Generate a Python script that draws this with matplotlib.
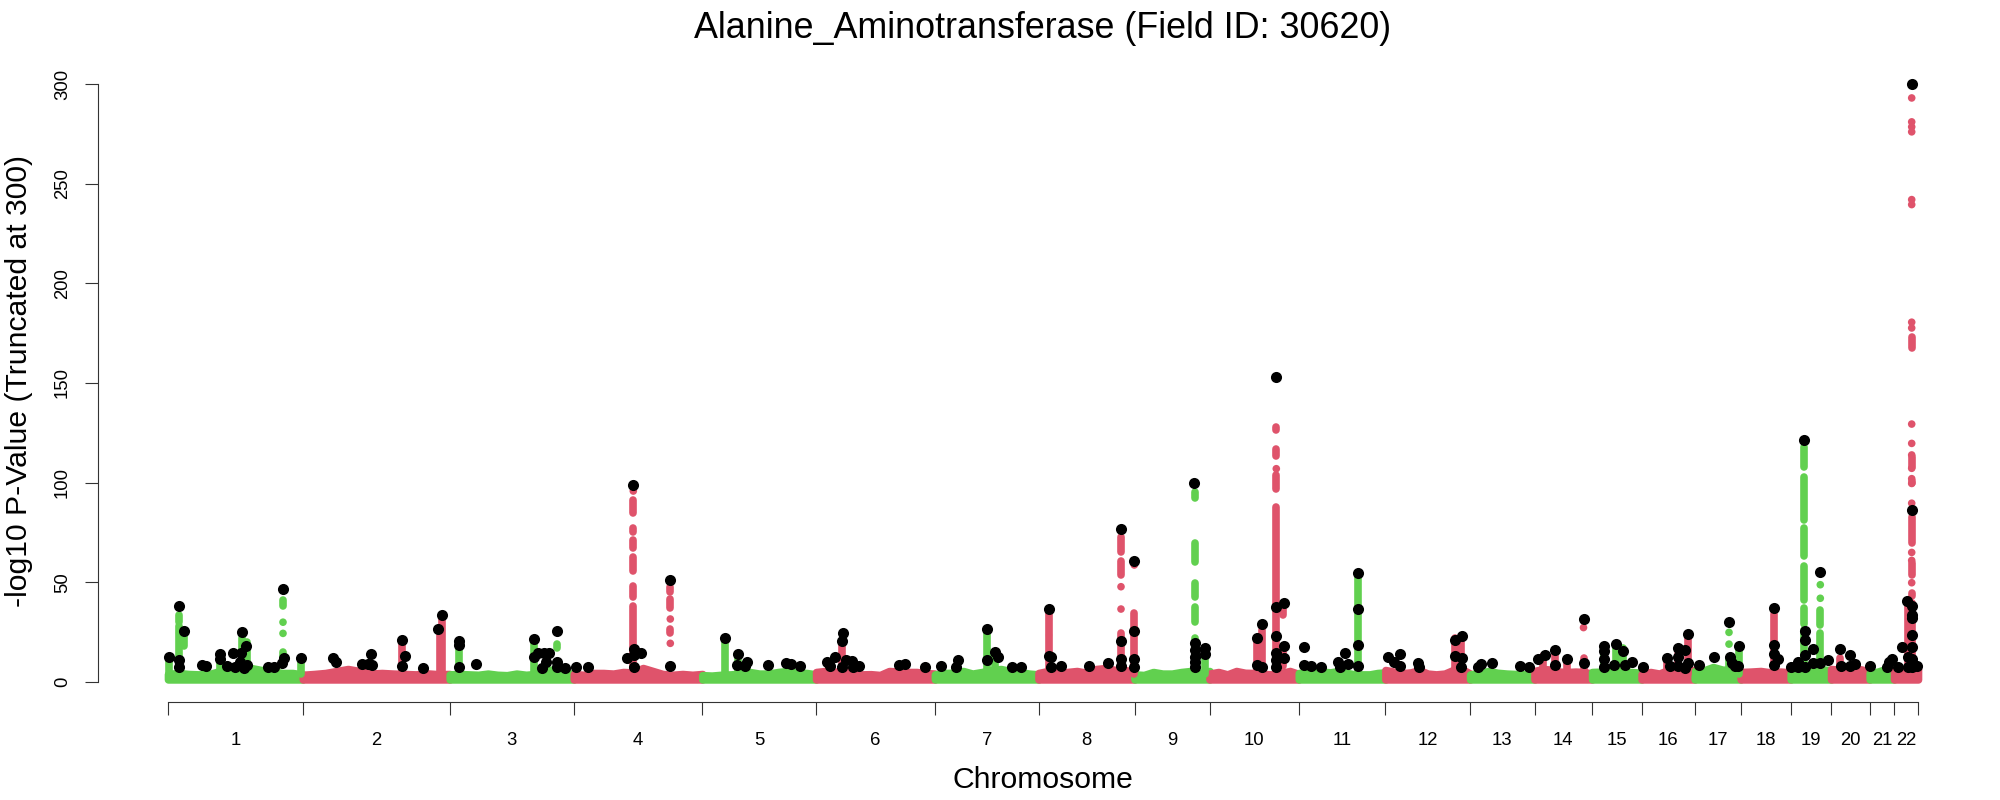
import numpy as np
import matplotlib
matplotlib.use('Agg')
import matplotlib.pyplot as plt

plt.rcParams['font.family'] = ['Liberation Sans', 'DejaVu Sans']

# chromosome widths along the x axis (variant index, not base pairs)
chrom_labels = [str(i) for i in range(1, 23)]
chrom_widths = [134.8, 146.9, 124.1, 128.5, 113.8, 118.8, 103.6, 96.0, 75.0, 89.3, 86.6,
                84.7, 64.4, 57.6, 49.5, 53.1, 46.0, 50.0, 40.4, 38.6, 24.4, 23.9]

# top of the dense background of points, read left to right in each chromosome
floor_heights = [
    [4, 4.5, 4, 3.8, 4, 5.5, 5, 6.5, 7, 6, 5.5, 4.5, 4.5, 3.8],
    [3.6, 4, 4.5, 5.5, 6.5, 5.5, 4.2, 4.5, 4.2, 4, 3.8, 4.3, 3.9, 4],
    [3.8, 4, 3.8, 3.6, 4.2, 3.6, 3.4, 4.2, 3.6, 4, 5.5, 6.5, 5, 3.8],
    [4, 3.6, 4.5, 4.5, 4.2, 5, 4.8, 7, 5.5, 4, 3.6, 4, 3.6, 4],
    [3.4, 3.2, 3.6, 3.8, 4.2, 5, 4.2, 4.2, 5, 5.5, 4.5, 4.5, 3.8],
    [5, 5.5, 5, 6, 4.2, 3.8, 3.9, 3.5, 5.5, 5.2, 5, 5, 4.5, 4.2],
    [3.8, 4.5, 4.6, 5.5, 4.2, 5, 6, 6.5, 5.5, 5, 4.2, 3.8],
    [4.5, 5.5, 4.5, 5, 5.5, 4.6, 6.5, 7, 6, 6, 5],
    [3.8, 3.5, 5, 4.2, 4.2, 5, 5.5, 4.5, 5.5],
    [4.2, 5, 3.8, 5.5, 4.6, 4.5, 4, 3.8, 4.5, 5.5, 4],
    [4.5, 4.8, 5.5, 5.2, 4.8, 5.5, 4.6, 3.9, 3.8, 3.8, 4.5, 4.8],
    [6, 5.2, 4.4, 4.8, 6, 4.2, 3.8, 4.2, 6, 6.5, 4.2],
    [3.8, 4.5, 5.5, 4.6, 4.2, 4, 3.8, 3.5],
    [5.5, 6.5, 6.2, 5.2, 5, 5.2, 5, 4.2],
    [5, 5.2, 6, 5.2, 5, 4.6],
    [4, 5, 4.2, 6, 6.2, 6.5, 5.8],
    [5.5, 5.8, 7.5, 6.2, 6, 4.8],
    [5, 5.2, 5.5, 4.8, 5.2, 4.8],
    [4.4, 4.8, 5.5, 6.5, 6.2, 6],
    [6.5, 6.2, 5.5, 7, 6.2, 5],
    [4.5, 5.2, 6.5, 5.2],
    [5.5, 6, 6.5, 6.5],
]

# unbroken runs of points in a peak: position, lowest and highest value
run_pos = [0.75, 10.6, 10.6, 10.6, 16.4, 51.6, 74.4, 78.9, 115, 115, 133.3, 233.8, 271.5, 274,
           291.4, 366, 388.7, 465.3, 465.3, 465.3, 465.3, 465.3, 465.3, 502.3, 502.3, 502.3,
           556.6, 570, 674, 818.6, 826.6, 880.7, 880.7, 880.7,
           953, 953, 953, 966.3, 1027.3, 1027.3, 1027.3, 1027.3, 1027.3, 1037.3,
           1089.3, 1093.7, 1108.3, 1108.3, 1108.3, 1108.3, 1115.3, 1115.3,
           1190, 1287, 1293, 1375, 1387, 1399, 1415.5, 1435.6, 1447.6, 1455,
           1498.5, 1509.7, 1520.4, 1561, 1571.3, 1606, 1672,
           1636.3, 1636.3, 1636.3, 1636.3, 1636.3, 1636.3, 1652.3, 1652.3,
           1743.7, 1743.7, 1743.7, 1743.7, 1743.7, 1743.7, 1743.7, 1740.3]
run_low = [4, 25, 4, 30, 18, 4, 4, 8, 38, 10, 4, 4, 4, 4,
           4, 4, 17, 4, 42.5, 55.9, 67, 75.3, 84.6, 37, 45.3, 24.4,
           4, 4, 4, 4, 6, 4, 24, 32,
           4, 53.7, 65.3, 4, 4, 30, 42.8, 60.4, 92.2, 4,
           4, 4, 4, 97, 113.6, 126.4, 33.6, 8,
           4, 4, 4, 4, 4, 4, 4, 4, 7, 7,
           4, 4, 4, 4, 4, 4, 4,
           4, 29, 41.1, 63.4, 81.3, 108, 4, 28.6,
           4, 42.9, 53.7, 69.6, 100, 108, 167.4, 8]
run_high = [11, 28, 24, 33.6, 24, 12, 22, 20, 41, 15, 10, 20, 27, 33,
            17, 20, 19, 38.3, 48.3, 62.9, 71.2, 77.1, 91.3, 41.5, 47.8, 26.4,
            21, 12, 20, 26, 14, 23, 31, 36,
            24.5, 60.9, 72.9, 34.4, 21.9, 37.8, 49.5, 69.6, 95.5, 15,
            22, 26, 87.7, 103.9, 116.9, 128, 37.8, 18,
            54, 22, 22, 13, 16, 11, 12, 18, 17, 17,
            10, 14, 22, 12, 16, 34, 12,
            26, 37, 58.2, 77.1, 103, 118, 24.4, 36.1,
            39.5, 44.6, 59.5, 83, 101, 113, 173.3, 38]

# isolated points above the background
dot_pos = [1743.7, 1743.7, 1743.7, 1743.7, 1743.7, 1743.7, 1743.7, 1743.7, 1743.7, 1743.7, 1743.7,
           1743.7, 1743.7, 1743.7, 1743.7, 1743.7, 1743.7, 1743.7,
           115, 115, 502.3, 502.3, 953, 953, 966.3, 465.3, 1108.3,
           1415.5, 1561, 1561, 1652.3, 1652.3]
dot_val = [293, 281, 278.5, 276, 242, 239.5, 180.5, 177.6, 129.4, 119.7, 113.9, 107.2,
           102, 99.6, 89.7, 65, 61, 49.8,
           30, 24.4, 31.6, 19.4, 47.8, 36.6, 58.7, 95.8, 107,
           27.3, 24.9, 19, 48.8, 42]

# lead variants drawn in black on top
hit_pos = [0.75, 10.6, 10.6, 10.6, 16.4, 33.8, 38, 51.6, 51.6, 59, 65, 66.8, 73, 74.4, 78, 72, 75.8,
           78.9, 99.9, 106, 115, 115.5, 114, 133.3, 165, 168, 193.6, 200, 203.4, 203.9, 233.8, 236.5,
           233.8, 254.8, 269.5, 274, 291.4, 291.4, 291.4, 308.3, 365.9, 366.4, 370.4, 375.8, 381, 377.5,
           374, 388.7, 388.7, 388.7, 397, 407.9, 420, 458.8, 465.5, 465.5, 465.5, 473, 502, 502, 464.6,
           556.6, 570.4, 568.6, 578.9, 576.6, 600.3, 618.2, 623, 632.4, 658.8, 662.4, 666.8, 673.5, 675.3,
           674, 677.5, 683.8, 685, 691.4, 730.7, 737.4, 757.4, 772.6, 790, 788, 818.6, 818.6, 826.6, 830.2,
           843.6, 853.4, 880.7, 880.7, 883, 883, 893, 920.8, 939.6, 953, 953, 953, 953, 966.4, 966.4, 966.4,
           966.4, 1025.9, 1027, 1027, 1027, 1027, 1027, 1037.4, 1036.5, 1088.7, 1093.6, 1088.7, 1093.6,
           1107.9, 1115.5, 1108.3, 1115.5, 1108.3, 1115.5, 1108.3, 1108.3, 1107.5, 1135.6, 1135.6, 1142.7,
           1152.5, 1176.6, 1170.4, 1171.7, 1180.2, 1190, 1190, 1190, 1190,
           1220.4, 1231.6, 1225.8, 1232, 1249.9, 1251, 1286.9, 1293.6, 1286.9, 1293.6, 1293.2, 1309.7,
           1312.8, 1323.5, 1352, 1361, 1370, 1376.6, 1386.9, 1386.9, 1399, 1415.5, 1415.5, 1435.6, 1435.6,
           1435.6, 1435.6, 1446.3, 1447.6, 1454.8, 1457.4, 1464, 1475.3, 1498.5, 1502, 1509.7, 1509.7, 1510,
           1516.8, 1516.8, 1520.4, 1520.4, 1531, 1545.8, 1561, 1561.5, 1564, 1567, 1571.3, 1570.4, 1606,
           1605.6, 1605.6, 1609.7, 1605.6, 1623, 1629.8, 1636.5, 1636.5, 1636.5, 1636.5, 1629.8, 1636.3,
           1645, 1645.4, 1652, 1652, 1659.7, 1672, 1673, 1682.4, 1682.4, 1687, 1701.6, 1721, 1724.4, 1719,
           1730, 1733.8, 1738.7, 1744, 1744, 1744, 1744, 1743.6, 1740, 1743.6, 1740, 1743.6, 1749, 1743.7,
           1743.7]
hit_val = [12.7, 38.1, 11, 7.4, 25.6, 8.4, 8.2, 13.9, 11.4, 8.2, 14.4, 7.7, 14.4, 24.9, 17.9, 10.2, 7.2,
           8.4, 7.4, 7.7, 46.5, 11.9, 9.7, 12, 12.2, 10, 8.9, 8.9, 13.9, 8.5, 21, 13,
           8, 7.2, 26.8, 33.6, 20.7, 18.4, 7.7, 8.9, 21.6, 12.5, 14.7, 14.4, 14.7, 10.2,
           7.2, 25.8, 9.9, 7.7, 7.2, 7.7, 7.4, 12, 16.7, 13.5, 7.7, 14.4, 51.3, 8.2, 99,
           22, 14, 8.4, 10.2, 8.2, 8.4, 9.7, 8.9, 8, 10.2, 8, 12.5, 20.7, 24.7,
           7.4, 11, 10.7, 7.4, 8.2, 8.5, 9, 7.7, 8, 11, 7.5, 26.8, 10.9, 15, 12.5,
           7.7, 7.7, 36.5, 13, 12.7, 7.4, 8, 8, 9.5, 77, 20.6, 11.4, 8.2, 60.5, 25.6, 11.4,
           7.7, 100, 19.7, 16.2, 12.7, 10.2, 7.7, 17, 14, 22, 29, 8.5, 7.7,
           37.8, 39.8, 23.2, 18.2, 14.4, 12.2, 11, 7.7, 153, 17.4, 8.7, 8.2,
           7.7, 14.4, 10.2, 7.7, 9.2, 54.8, 36.5, 18.6, 8.2,
           12.7, 13.9, 10.2, 8, 9.7, 7.7, 20.9, 22.9, 13, 11.9, 7.7, 7.5,
           9, 9.7, 8, 7.5, 11.4, 13.7, 16.2, 8.5, 11.5, 31.4, 9.4, 18, 15.7,
           11.4, 7.4, 8.5, 18.9, 15.6, 8.4, 10.2, 7.7, 12.2, 8.2, 16.9, 12.4, 8.2,
           15.9, 6.9, 24.2, 9.7, 8.4, 12.5, 29.9, 12.4, 9.7, 8.2, 18.2, 8.2, 37.3,
           18.6, 14, 11.7, 8.5, 7.4, 10.2, 25.6, 20.9, 13.5, 7.7, 7.4, 121.6,
           16.4, 9.4, 55.2, 9.4, 10.9, 16.7, 8.2, 13.5, 8.2, 9, 8.2, 10.2, 11.4, 7.7,
           7.4, 17.7, 40.6, 38, 33.6, 32, 23.7, 17.7, 12.7, 11.4, 7.4, 7.4, 8, 300,
           86.3]

y_ticks = [0, 50, 100, 150, 200, 250, 300]

RED = '#DF536B'
GREEN = '#61D04F'


def chrom_color(index):
    # odd numbered chromosomes are green, even ones red
    return GREEN if index % 2 == 0 else RED


fig = plt.figure(figsize=(20, 8), dpi=100)
ax = fig.add_axes([168 / 2000, 1 - 682 / 800, 1750 / 2000, 598 / 800])

edges = np.concatenate([[0], np.cumsum(chrom_widths)])

# dense background, one filled band per chromosome
for i, heights in enumerate(floor_heights):
    x = np.linspace(edges[i], edges[i + 1], len(heights))
    ax.fill_between(x, 1.3, heights, color=chrom_color(i), lw=5.5, joinstyle='round',
                    clip_on=False, zorder=2)

# peak columns and single points, coloured by the chromosome they fall in
run_index = np.searchsorted(edges, run_pos) - 1
run_colors = [chrom_color(i) for i in run_index]
ax.vlines(run_pos, run_low, run_high, colors=run_colors, lw=5.5, capstyle='round',
          clip_on=False, zorder=3)

dot_index = np.searchsorted(edges, dot_pos) - 1
dot_colors = [chrom_color(i) for i in dot_index]
ax.scatter(dot_pos, dot_val, s=30, c=dot_colors, linewidths=0, clip_on=False, zorder=3)

ax.scatter(hit_pos, hit_val, s=64, c='black', linewidths=0, clip_on=False, zorder=4)

ax.set_xlim(0, 1750)
ax.set_ylim(0, 300)

# R style detached axes
for side in ['top', 'right']:
    ax.spines[side].set_visible(False)
ax.spines['left'].set_position(('outward', 50.4))
ax.spines['bottom'].set_position(('outward', 14.4))
ax.spines['left'].set_bounds(0, 300)
ax.spines['bottom'].set_bounds(0, 1750)
for side in ['left', 'bottom']:
    ax.spines[side].set_linewidth(0.8)
    ax.spines[side].set_color('#333333')

ax.set_yticks(y_ticks)
ax.set_xticks(edges)
ax.set_xticklabels([])
ax.tick_params(axis='both', length=9.4, width=0.8, color='#333333')
ax.tick_params(axis='y', labelsize=13.3, pad=10)
for label in ax.get_yticklabels():
    label.set_rotation(90)
    label.set_va('center')

centers = (edges[:-1] + edges[1:]) / 2
for c, name in zip(centers, chrom_labels):
    ax.annotate(name, (c, 0), xycoords=('data', 'axes fraction'), xytext=(0, -42),
                textcoords='offset points', ha='center', va='center', fontsize=13.3)

fig.text(1043 / 2000, 1 - 29 / 800, 'Alanine_Aminotransferase (Field ID: 30620)',
         ha='center', va='center', fontsize=25.8)
fig.text(1043 / 2000, 1 - 780 / 800, 'Chromosome', ha='center', va='center', fontsize=21.7)
fig.text(19 / 2000, 1 - 381 / 800, '-log10 P-Value (Truncated at 300)', ha='center', va='center',
         rotation=90, fontsize=21.7)

fig.savefig('out.png', dpi=100)
